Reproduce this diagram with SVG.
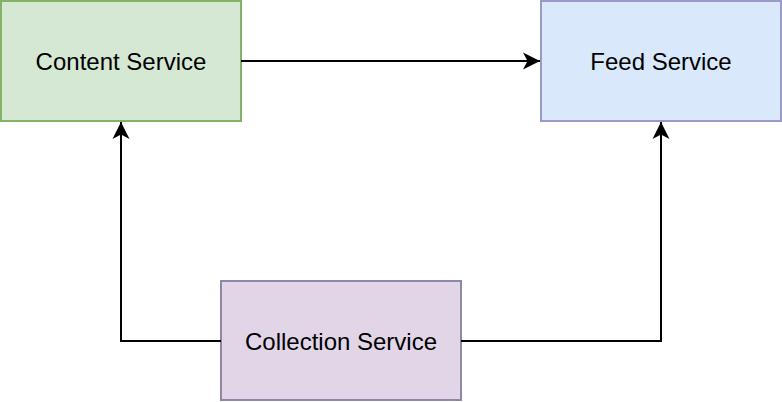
<svg xmlns="http://www.w3.org/2000/svg" width="782" height="402" viewBox="0 0 782 402">
<defs>
<style>
.box{stroke-width:2}
.lbl{font-family:"Liberation Sans",Arial,Helvetica,sans-serif;font-size:24px;fill:#000;text-anchor:middle}
.edge{fill:none;stroke:#000;stroke-width:2}
</style>
<marker id="arr" markerUnits="userSpaceOnUse" markerWidth="20" markerHeight="20" viewBox="-18 -10 20 20" refX="0" refY="0" orient="auto">
<path d="M0,0 L-17,-8.5 L-12.5,0 L-17,8.5 Z" fill="#000"/>
</marker>
</defs>
<g id="content-service">
<rect class="box" x="1" y="1" width="240" height="120" fill="#d5e8d4" stroke="#82b366"/>
<text class="lbl" x="121" y="70">Content Service</text>
</g>
<g id="feed-service">
<rect class="box" x="541" y="1" width="240" height="120" fill="#dae8fc" stroke="#9a9ac8"/>
<text class="lbl" x="661" y="70">Feed Service</text>
</g>
<g id="collection-service">
<rect class="box" x="221" y="281" width="240" height="119" fill="#e1d5e7" stroke="#8e88a8"/>
<text class="lbl" x="341" y="350">Collection Service</text>
</g>
<g id="connectors">
<path class="edge" d="M241,61 L540,61" marker-end="url(#arr)"/>
<path class="edge" d="M221,341 L121,341 L121,122" marker-end="url(#arr)"/>
<path class="edge" d="M461,341 L661,341 L661,122" marker-end="url(#arr)"/>
</g>
</svg>
